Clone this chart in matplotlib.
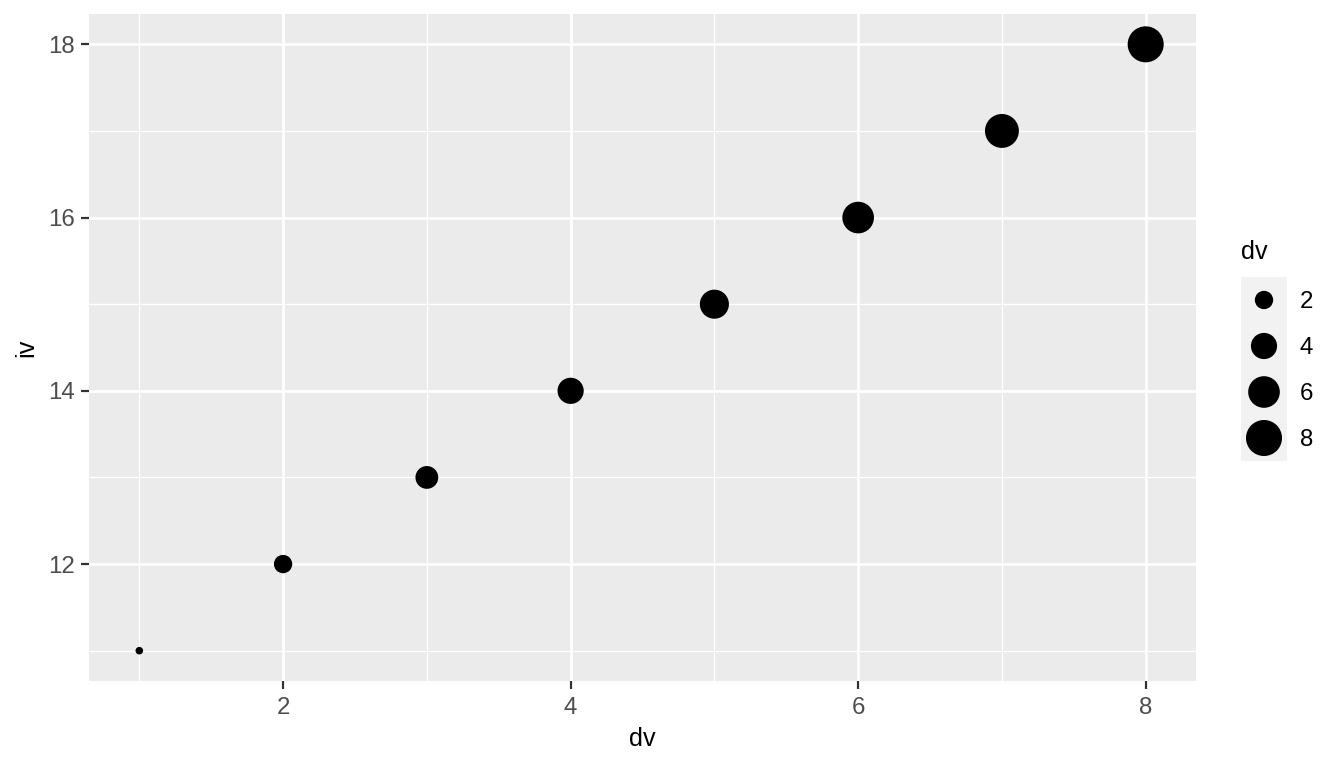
import numpy as np
import matplotlib
matplotlib.use("Agg")
import matplotlib.pyplot as plt

plt.rcParams['font.family'] = ['Liberation Sans', 'DejaVu Sans']

# data
dv = [1, 2, 3, 4, 5, 6, 7, 8]
iv = [11, 12, 13, 14, 15, 16, 17, 18]
legend_breaks = [2, 4, 6, 8]
x_ticks = [2, 4, 6, 8]
y_ticks = [12, 14, 16, 18]

W, H, DPI = 1344, 768, 144
TICK_FS = 12
TITLE_FS = 12.6


def point_size(v, lo=min(dv), hi=max(dv)):
    # ggplot-like area scale: range 1..6 mm, then to points^2 for scatter
    size = 1 + 5 * np.sqrt((np.asarray(v, float) - lo) / (hi - lo))
    diam = size * 2.845 + 0.945
    return diam ** 2


fig = plt.figure(figsize=(W / DPI, H / DPI), dpi=DPI)

# main panel, placed in pixel terms
l, r, t, b = 89, 1196, 14, 681
ax = fig.add_axes([l / W, 1 - b / H, (r - l) / W, (b - t) / H])
ax.set_facecolor('#EBEBEB')
for s in ax.spines.values():
    s.set_visible(False)

xr = max(dv) - min(dv)
yr = max(iv) - min(iv)
ax.set_xlim(min(dv) - 0.05 * xr, max(dv) + 0.05 * xr)
ax.set_ylim(min(iv) - 0.05 * yr, max(iv) + 0.05 * yr)

ax.set_xticks(x_ticks)
ax.set_yticks(y_ticks)
ax.set_xticks([1, 3, 5, 7], minor=True)
ax.set_yticks([11, 13, 15, 17], minor=True)
ax.grid(which='major', color='white', linewidth=1.4)
ax.grid(which='minor', color='white', linewidth=0.7)
ax.set_axisbelow(True)
ax.tick_params(which='major', length=4, width=1.1, color='#333333',
               labelsize=TICK_FS, labelcolor='#4D4D4D')
ax.tick_params(axis='x', pad=4)
ax.tick_params(axis='y', pad=3.3)
ax.tick_params(which='minor', length=0)

ax.scatter(dv, iv, s=point_size(dv), color='black', linewidths=0, zorder=3)

ax.set_xlabel('dv', fontsize=TITLE_FS, labelpad=4)
ax.set_ylabel('iv', fontsize=TITLE_FS, labelpad=4.5)

# legend drawn by hand (size legend with grey keys)
kl, kr, kt, kb = 1241, 1287, 277, 461
lax = fig.add_axes([kl / W, 1 - kb / H, (kr - kl) / W, (kb - kt) / H])
lax.set_facecolor('#F2F2F2')
lax.set_xlim(0, 1)
lax.set_ylim(len(legend_breaks), 0)
lax.set_xticks([])
lax.set_yticks([])
for s in lax.spines.values():
    s.set_visible(False)
ypos = np.arange(len(legend_breaks)) + 0.5
lax.scatter([0.5] * len(legend_breaks), ypos, s=point_size(legend_breaks),
            color='black', linewidths=0, clip_on=False)
for yy, lab in zip(ypos, legend_breaks):
    fig.text(1300 / W, 1 - (kt + 2 + yy * (kb - kt) / len(legend_breaks)) / H,
             str(lab), fontsize=TICK_FS, va='center', ha='left')
fig.text(1241 / W, 1 - 252 / H, 'dv', fontsize=TITLE_FS, va='center', ha='left')

fig.savefig('out.png', dpi=DPI, facecolor='white')
